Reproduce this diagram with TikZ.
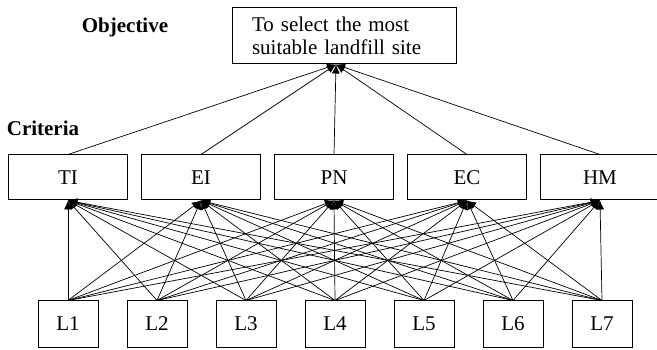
\documentclass[tikz,border=0pt]{standalone}
\usepackage{fontspec}
\setmainfont{Liberation Serif}
\usepackage{tikz}
\usetikzlibrary{positioning}
\usetikzlibrary{arrows.meta}
\tikzset{>={Latex[length=9pt,width=8pt]}}
\tikzstyle{box}=[draw,line width=1pt,inner sep=0pt,font=\fontsize{21}{23}\selectfont]
\tikzstyle{crit}=[box,minimum width=119pt,minimum height=45pt]
\tikzstyle{site}=[box,minimum width=60pt,minimum height=46pt]
\tikzstyle{link}=[->,line width=0.7pt]
\tikzstyle{head}=[font=\bfseries\fontsize{21}{23}\selectfont]

\begin{document}
\begin{tikzpicture}[x=1pt,y=-1pt]
\useasboundingbox (0,0) rectangle (657,350);

% Objective
\node[box,text width=184pt,inner xsep=20pt,minimum height=56pt,align=left] (goal) at (344,36)
  {To select the most\\suitable landfill site};
\coordinate (top) at ([xshift=-8pt]goal.south);
\node[head] (objlabel) at (125,27) {Objective};

% Criteria
\node[head] (critlabel) at (43,128) {Criteria};
\foreach \lbl [count=\i] in {TI,EI,PN,EC,HM}
  \node[crit] (\lbl) at ({68+133*(\i-1)},177.5) {\lbl};

% Criteria up to the objective
\foreach \lbl in {TI,EI,PN,EC,HM}
  \draw[link] (\lbl.north) -- (top);

% Candidate sites
\foreach \i in {1,...,7}
  \node[site] (L\i) at ({68+89*(\i-1)},324) {L\i};

% Each site to each criterion
\foreach \i in {1,...,7}
  \foreach \lbl in {TI,EI,PN,EC,HM}
    \draw[link] (L\i.north) -- (\lbl.south);

\end{tikzpicture}
\end{document}
